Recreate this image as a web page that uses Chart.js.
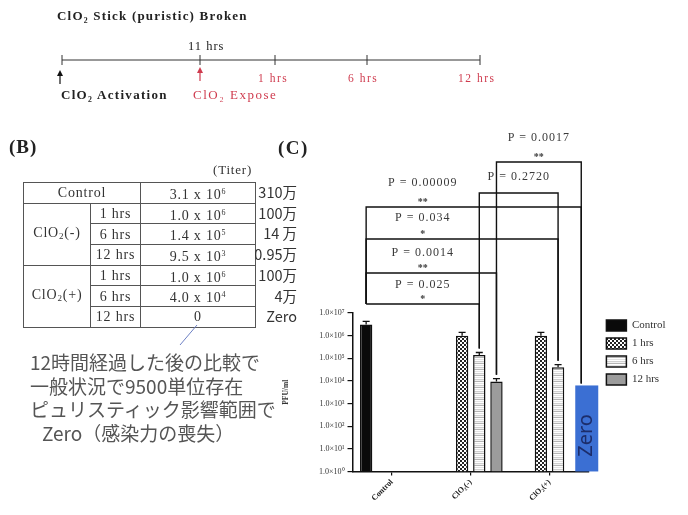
<!DOCTYPE html>
<html>
<head>
<meta charset="utf-8">
<script src="https://cdn.jsdelivr.net/npm/chart.js@4.4.0/dist/chart.umd.min.js"></script>
<style>
html, body { margin: 0; padding: 0; background: #fff; }
#wrap { position: relative; width: 688px; height: 515px; overflow: hidden; font-family: 'Liberation Serif', serif; color: #222; }
#chart { position: absolute; left: 0; top: 0; }
.abs { position: absolute; white-space: nowrap; }
#titer { position: absolute; left: 23px; top: 182px; width: 232px; border-collapse: collapse; table-layout: fixed; font-size: 14px; letter-spacing: 0.8px; color: #333; }
#titer td { border: 1px solid #555; height: 19.7px; padding: 0; text-align: center; line-height: 13px; }
#titer sup { font-size: 8px; vertical-align: 5px; }
#titer sub { font-size: 9px; vertical-align: -2px; }
.man { font-family: 'Noto Sans CJK JP', sans-serif; font-size: 14.5px; color: #333; text-align: right; width: 60px; line-height: 18px; }
.note { font-family: 'Noto Sans CJK JP', sans-serif; font-size: 19px; color: #555; line-height: 24px; }
</style>
</head>
<body>
<div id="wrap">
<canvas id="chart" width="688" height="515"></canvas>

<svg class="abs" style="left:0;top:0" width="560" height="112" font-family="Liberation Serif, serif">
  <text x="57" y="20" font-size="13" font-weight="bold" letter-spacing="1.2" fill="#222">ClO₂ Stick (puristic) Broken</text>
  <line x1="62" y1="60" x2="480" y2="60" stroke="#333" stroke-width="1"/>
  <g stroke="#333" stroke-width="1">
    <line x1="62" y1="55" x2="62" y2="65"/>
    <line x1="200" y1="55" x2="200" y2="65"/>
    <line x1="275" y1="55" x2="275" y2="65"/>
    <line x1="367" y1="55" x2="367" y2="65"/>
    <line x1="480" y1="55" x2="480" y2="65"/>
  </g>
  <text x="188" y="50" font-size="12.5" letter-spacing="1" fill="#222">11 hrs</text>
  <g font-size="11.5" fill="#cf3b4e" letter-spacing="1.5">
    <text x="258" y="82">1 hrs</text>
    <text x="348" y="82">6 hrs</text>
    <text x="458" y="82">12 hrs</text>
  </g>
  <line x1="60" y1="84" x2="60" y2="74" stroke="#111" stroke-width="1.2"/>
  <path d="M57 76 L60 70 L63 76 Z" fill="#111"/>
  <line x1="200" y1="81" x2="200" y2="71" stroke="#cf3b4e" stroke-width="1.2"/>
  <path d="M197 73 L200 67 L203 73 Z" fill="#cf3b4e"/>
  <text x="61" y="99" font-size="13" font-weight="bold" letter-spacing="1.3" fill="#222">ClO₂ Activation</text>
  <text x="193" y="99" font-size="13" letter-spacing="1.5" fill="#cf3b4e">ClO₂ Expose</text>
</svg>

<div class="abs" style="left:9px;top:136px;font-size:19px;font-weight:bold;letter-spacing:1px">(B)</div>
<div class="abs" style="left:278px;top:137px;font-size:19px;font-weight:bold;letter-spacing:1.5px">(C)</div>
<div class="abs" style="left:213px;top:162px;font-size:13px;letter-spacing:0.8px;color:#333">(Titer)</div>
<table id="titer">
  <colgroup><col style="width:67px"><col style="width:50px"><col style="width:115px"></colgroup>
  <tbody id="titerBody"></tbody>
</table>
<div id="manLabels"></div>
<svg class="abs" style="left:0;top:0" width="300" height="360">
  <line x1="197" y1="325" x2="180" y2="345" stroke="#6d80c4" stroke-width="1"/>
</svg>
<div id="notes"></div>
</div>

<script>
// chart (C) data
const CATEGORIES = ['Control', 'ClO₂(-)', 'ClO₂(+)'];
const SERIES_NAMES = ['Control', '1 hrs', '6 hrs', '12 hrs'];
const CONTROL_PFU = [3.1e6, null, null];
const HRS1_PFU = [null, 1.0e6, 1.0e6];
const HRS6_PFU = [null, 1.4e5, 4.0e4];
const HRS12_PFU = [null, 9.5e3, null];   // ClO2(+) 12 hrs = 0, not drawable on log axis
const CONTROL_ERR = [4.3e6, null, null];
const HRS1_ERR = [null, 1.4e6, 1.4e6];
const HRS6_ERR = [null, 1.8e5, 5.2e4];
const HRS12_ERR = [null, 1.25e4, null];
const ZERO_MARK = 6300;                  // top of the blue "Zero" box
const Y_TICKS = [1, 10, 100, 1e3, 1e4, 1e5, 1e6, 1e7];
const Y_TICK_LABELS = ['1.0×10⁰', '1.0×10¹', '1.0×10²', '1.0×10³', '1.0×10⁴', '1.0×10⁵', '1.0×10⁶', '1.0×10⁷'];

// significance brackets: [category, series]
const BRACKET_FROM = [[0, 0], [0, 0], [0, 0], [0, 0], [1, 2], [1, 3]];
const BRACKET_TO = [[1, 2], [1, 3], [2, 2], [2, 3], [2, 2], [2, 3]];
const BRACKET_P = ['P = 0.025', 'P = 0.0014', 'P = 0.034', 'P = 0.00009', 'P = 0.2720', 'P = 0.0017'];
const BRACKET_STARS = ['*', '**', '*', '**', '', '**'];

// table (B) data
const TABLE_GROUPS = ['Control', 'ClO<sub>2</sub>(-)', 'ClO<sub>2</sub>(+)'];
const TABLE_TIMES = ['1 hrs', '6 hrs', '12 hrs'];
const TITER = [3.1e6, 1.0e6, 1.4e5, 9.5e3, 1.0e6, 4.0e4, 0];
const TITER_MAN = ['310万', '100万', '14 万', '0.95万', '100万', '4万', 'Zero'];
const NOTE_LINES = ['12時間経過した後の比較で', '一般状況で9500単位存在', 'ピュリスティック影響範囲で', 'Zero（感染力の喪失）'];

function fmtTiter(v) {
    if (v === 0) return '0';
    const e = Math.floor(Math.log10(v));
    return (v / Math.pow(10, e)).toFixed(1) + ' x 10<sup>' + e + '</sup>';
}

// build the table
let rows = '<tr><td colspan="2">' + TABLE_GROUPS[0] + '</td><td>' + fmtTiter(TITER[0]) + '</td></tr>';
for (let g = 1; g < TABLE_GROUPS.length; g++) {
    TABLE_TIMES.forEach(function (t, k) {
        const v = TITER[1 + (g - 1) * TABLE_TIMES.length + k];
        rows += '<tr>' + (k === 0 ? '<td rowspan="3">' + TABLE_GROUPS[g] + '</td>' : '') +
            '<td>' + t + '</td><td>' + fmtTiter(v) + '</td></tr>';
    });
}
document.getElementById('titerBody').innerHTML = rows;

let man = '';
TITER_MAN.forEach(function (s, i) {
    man += '<div class="abs man" style="left:237px;top:' + (183 + i * 20.7) + 'px">' + s + '</div>';
});
document.getElementById('manLabels').innerHTML = man;

let notes = '';
NOTE_LINES.forEach(function (s, i) {
    notes += '<div class="abs note" style="left:' + (i === 3 ? 42 : 30) + 'px;top:' + (350 + i * 23.7) + 'px">' + s + '</div>';
});
document.getElementById('notes').innerHTML = notes;

// bar fills
const canvas = document.getElementById('chart');
const mainCtx = canvas.getContext('2d');
function makePattern(w, h, draw) {
    const c = document.createElement('canvas');
    c.width = w; c.height = h;
    draw(c.getContext('2d'));
    return mainCtx.createPattern(c, 'repeat');
}
const checker = makePattern(4, 4, function (g) {
    g.fillStyle = '#fff'; g.fillRect(0, 0, 4, 4);
    g.fillStyle = '#222'; g.fillRect(0, 0, 2, 2); g.fillRect(2, 2, 2, 2);
});
const stripes = makePattern(1, 6, function (g) {
    ['#ffffff', '#cfcfcf', '#f2f2f2', '#b5b5b5', '#ffffff', '#e2e2e2'].forEach(function (c, i) {
        g.fillStyle = c; g.fillRect(0, i, 1, 1);
    });
});

// error caps, Zero box and P-value brackets
const overlays = {
    id: 'overlays',
    afterLayout(chart, args, opts) {
        chart.legend.left += opts.legendShift;
        chart.legend.right += opts.legendShift;
    },
    afterDatasetsDraw(chart, args, opts) {
        const ctx = chart.ctx;
        const area = chart.chartArea;
        const x = chart.scales.x, y = chart.scales.y;
        const sets = chart.data.datasets;

        function slotX(ds, cat) {
            const meta = chart.getDatasetMeta(ds);
            if (sets[ds].data[cat] != null) return meta.data[cat].x;
            const k = sets[ds].data.findIndex(function (v) { return v != null; });
            return meta.data[k].x - x.getPixelForValue(k) + x.getPixelForValue(cat);
        }

        ctx.save();
        ctx.strokeStyle = '#111';
        ctx.lineWidth = 1.3;
        sets.forEach(function (ds, d) {
            const meta = chart.getDatasetMeta(d);
            ds.data.forEach(function (v, i) {
                if (v == null) return;
                const el = meta.data[i];
                const yt = y.getPixelForValue(ds.errors[i]);
                ctx.beginPath();
                ctx.moveTo(el.x, el.y); ctx.lineTo(el.x, yt);
                ctx.moveTo(el.x - 3.5, yt); ctx.lineTo(el.x + 3.5, yt);
                ctx.stroke();
            });
        });

        // Zero box
        const zx = slotX(3, 2);
        const zTop = y.getPixelForValue(ZERO_MARK);
        ctx.fillStyle = '#3b6fd3';
        ctx.fillRect(zx, zTop, opts.zeroWidth, area.bottom - zTop);
        ctx.save();
        ctx.translate(zx + opts.zeroWidth / 2, (zTop + area.bottom) / 2 + 7);
        ctx.rotate(-Math.PI / 2);
        ctx.font = '20px "Noto Sans", sans-serif';
        ctx.fillStyle = '#1c2d6b';
        ctx.textAlign = 'center';
        ctx.textBaseline = 'middle';
        ctx.fillText('Zero', 0, 0);
        ctx.restore();

        // brackets
        const spine = area.top - Math.min.apply(null, opts.rises);
        function endPoint(p) {
            const cat = p[0], ds = p[1];
            if (cat === 0) return { x: slotX(ds, cat), y: spine };
            if (sets[ds].data[cat] == null) return { x: slotX(ds, cat) + 6, y: zTop - 2 };
            return { x: slotX(ds, cat), y: y.getPixelForValue(sets[ds].errors[cat]) - 4 };
        }
        ctx.lineWidth = 1.4;
        ctx.textAlign = 'center';
        ctx.textBaseline = 'middle';
        BRACKET_FROM.forEach(function (from, b) {
            const a = endPoint(from), c = endPoint(BRACKET_TO[b]);
            const ly = area.top - opts.rises[b];
            ctx.strokeStyle = '#111';
            ctx.beginPath();
            ctx.moveTo(a.x, a.y); ctx.lineTo(a.x, ly); ctx.lineTo(c.x, ly); ctx.lineTo(c.x, c.y);
            ctx.stroke();
            const cx = from[0] === 0 ? (a.x + slotX(2, 1)) / 2 : (a.x + c.x) / 2;
            ctx.fillStyle = '#3a3a3a';
            ctx.letterSpacing = '1px';
            ctx.font = '12px "Liberation Serif", serif';
            ctx.fillText(BRACKET_P[b], cx, ly - opts.textLift[b]);
            ctx.letterSpacing = '0px';
            ctx.font = 'bold 10px "Liberation Serif", serif';
            ctx.fillText(BRACKET_STARS[b], cx, ly - 5);
        });
        ctx.restore();
    }
};

const serif = 'Liberation Serif';
new Chart(mainCtx, {
    type: 'bar',
    data: {
        labels: CATEGORIES,
        datasets: [
            { label: SERIES_NAMES[0], data: CONTROL_PFU, errors: CONTROL_ERR, backgroundColor: '#0a0a0a' },
            { label: SERIES_NAMES[1], data: HRS1_PFU, errors: HRS1_ERR, backgroundColor: checker },
            { label: SERIES_NAMES[2], data: HRS6_PFU, errors: HRS6_ERR, backgroundColor: stripes },
            { label: SERIES_NAMES[3], data: HRS12_PFU, errors: HRS12_ERR, backgroundColor: '#9c9c9c' }
        ].map(function (d) {
            return Object.assign(d, { borderColor: '#111', borderWidth: 1.5, categoryPercentage: 0.872, barPercentage: 0.72 });
        })
    },
    options: {
        responsive: false,
        animation: false,
        layout: { padding: { left: 277.5, top: 313, right: 23, bottom: 10 } },
        plugins: {
            legend: {
                position: 'right',
                align: 'start',
                labels: { boxWidth: 20, boxHeight: 11, padding: 7, color: '#333', font: { family: serif, size: 11 } }
            },
            tooltip: { enabled: false },
            overlays: {
                legendShift: 10.5,
                zeroWidth: 23,
                rises: [9, 40, 74, 106, 120, 151],
                textLift: [19, 20, 21, 24, 16, 24]
            }
        },
        scales: {
            x: {
                grid: { offset: false, drawOnChartArea: false, drawTicks: true, tickLength: 4, color: '#111', lineWidth: 1.2 },
                border: { color: '#111', width: 1.5 },
                ticks: { maxRotation: 45, minRotation: 45, padding: 2, color: '#222', font: { family: serif, size: 8, weight: 'bold' } }
            },
            y: {
                type: 'logarithmic',
                min: 1,
                max: 1e7,
                afterBuildTicks: function (s) { s.ticks = Y_TICKS.map(function (v) { return { value: v }; }); },
                grid: { drawOnChartArea: false, drawTicks: true, tickLength: 5, color: '#111', lineWidth: 1.2 },
                border: { color: '#111', width: 1.5 },
                ticks: {
                    padding: 3,
                    color: '#333',
                    font: { family: serif, size: 8 },
                    callback: function (v, i) { return Y_TICK_LABELS[i]; }
                },
                title: { display: true, text: 'PFU/ml', color: '#333', font: { family: serif, size: 7.5, weight: 'bold' }, padding: { top: 4, bottom: 25.5 } }
            }
        }
    },
    plugins: [overlays]
});
</script>
</body>
</html>
